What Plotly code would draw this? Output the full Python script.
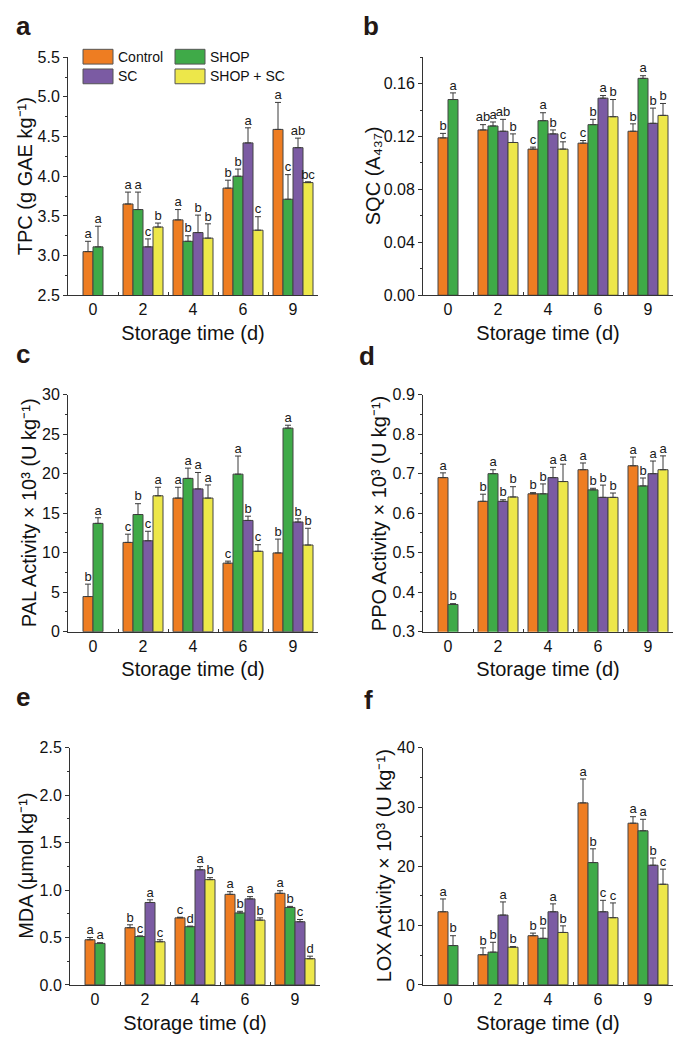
import plotly.graph_objects as go

W, H = 685, 1049
days = ["0", "2", "4", "6", "9"]
treatments = ["Control", "SHOP", "SC", "SHOP + SC"]
colors = ["#EE7D22", "#3FAA48", "#7B5BA3", "#EDE74A"]

# ---- a: TPC ----
tpc_mean = [[3.05, 3.65, 3.45, 3.85, 4.59],
            [3.11, 3.58, 3.18, 4.00, 3.71],
            [None, 3.11, 3.29, 4.42, 4.36],
            [None, 3.36, 3.22, 3.32, 3.92]]
tpc_err = [[0.13, 0.15, 0.13, 0.10, 0.34],
           [0.26, 0.22, 0.07, 0.09, 0.31],
           [None, 0.10, 0.22, 0.19, 0.12],
           [None, 0.05, 0.18, 0.17, 0.01]]
tpc_sig = [["a", "a", "a", "b", "a"],
           ["a", "a", "b", "b", "c"],
           [None, "c", "b", "a", "ab"],
           [None, "b", "b", "c", "bc"]]

# ---- b: SQC ----
sqc_mean = [[0.119, 0.125, 0.1105, 0.115, 0.124],
            [0.148, 0.128, 0.132, 0.129, 0.164],
            [None, 0.124, 0.122, 0.149, 0.130],
            [None, 0.1155, 0.1105, 0.135, 0.136]]
sqc_err = [[0.0034, 0.004, 0.0015, 0.002, 0.0056],
           [0.005, 0.003, 0.006, 0.004, 0.002],
           [None, 0.009, 0.003, 0.002, 0.0115],
           [None, 0.0065, 0.0055, 0.013, 0.009]]
sqc_sig = [["b", "ab", "c", "c", "b"],
           ["a", "a", "a", "b", "a"],
           [None, "ab", "b", "a", "b"],
           [None, "b", "c", "b", "b"]]

# ---- c: PAL ----
pal_mean = [[4.45, 11.30, 16.91, 8.68, 9.97],
            [13.71, 14.83, 19.40, 19.94, 25.76],
            [None, 11.51, 18.07, 14.08, 13.88],
            [None, 17.20, 16.91, 10.18, 10.97]]
pal_err = [[1.57, 1.04, 1.37, 0.25, 1.75],
           [0.71, 1.37, 1.30, 2.29, 0.37],
           [None, 1.20, 2.08, 0.54, 0.41],
           [None, 1.08, 1.66, 0.83, 2.12]]
pal_sig = [["b", "c", "a", "c", "b"],
           ["a", "b", "a", "a", "a"],
           [None, "c", "a", "b", "b"],
           [None, "a", "a", "c", "b"]]

# ---- d: PPO ----
ppo_mean = [[0.690, 0.630, 0.649, 0.710, 0.720],
            [0.369, 0.700, 0.649, 0.659, 0.669],
            [None, 0.630, 0.690, 0.640, 0.700],
            [None, 0.641, 0.680, 0.640, 0.710]]
ppo_err = [[0.012, 0.018, 0.003, 0.017, 0.022],
           [0.002, 0.010, 0.025, 0.004, 0.020],
           [None, 0.004, 0.026, 0.031, 0.032],
           [None, 0.026, 0.044, 0.011, 0.035]]
ppo_sig = [["a", "b", "b", "a", "a"],
           ["b", "a", "b", "b", "b"],
           [None, "b", "a", "b", "a"],
           [None, "b", "a", "b", "a"]]

# ---- e: MDA ----
mda_mean = [[0.476, 0.603, 0.707, 0.955, 0.966],
            [0.438, 0.510, 0.614, 0.759, 0.817],
            [None, 0.869, 1.214, 0.907, 0.666],
            [None, 0.455, 1.110, 0.683, 0.276]]
mda_err = [[0.024, 0.031, 0.007, 0.028, 0.027],
           [0.007, 0.007, 0.006, 0.017, 0.011],
           [None, 0.028, 0.034, 0.024, 0.024],
           [None, 0.021, 0.021, 0.024, 0.027]]
mda_sig = [["a", "b", "c", "a", "a"],
           ["a", "c", "d", "b", "b"],
           [None, "a", "a", "a", "c"],
           [None, "c", "b", "b", "d"]]

# ---- f: LOX ----
lox_mean = [[12.34, 5.09, 8.30, 30.71, 27.28],
            [6.64, 5.53, 7.86, 20.64, 26.00],
            [None, 11.78, 12.34, 12.34, 20.19],
            [None, 6.36, 8.85, 11.34, 16.98]]
lox_err = [[2.16, 1.16, 0.44, 4.03, 1.10],
           [1.66, 1.66, 1.71, 2.32, 1.94],
           [None, 2.22, 1.33, 1.93, 1.22],
           [None, 0.11, 1.11, 2.49, 2.55]]
lox_sig = [["a", "b", "b", "a", "a"],
           ["b", "b", "b", "b", "a"],
           [None, "a", "a", "c", "b"],
           [None, "b", "b", "c", "c"]]

FONT = "Liberation Sans, Arial, sans-serif"
AX = "#333333"


def px(x):
    return x / W


def py(y):
    return 1 - y / H


panels = [
    dict(mean=tpc_mean, err=tpc_err, sig=tpc_sig, title="TPC (g GAE kg⁻¹)", tx=25,
         rng=[2.5, 5.5], dtick=0.5, fmt=".1f", xd=(68, 318), yd=(50, 292), letter="a", lp=(14, 36)),
    dict(mean=sqc_mean, err=sqc_err, sig=sqc_sig, title="SQC (A₄₃₇)", tx=373,
         rng=[0, 0.18], dtick=0.04, fmt=".2f", xd=(423, 673), yd=(50, 292), letter="b", lp=(361, 36)),
    dict(mean=pal_mean, err=pal_err, sig=pal_sig, title="PAL Activity × 10³ (U kg⁻¹)", tx=29,
         rng=[0, 30], dtick=5, fmt="d", xd=(68, 318), yd=(393, 634), letter="c", lp=(14, 369)),
    dict(mean=ppo_mean, err=ppo_err, sig=ppo_sig, title="PPO Activity × 10³ (U kg⁻¹)", tx=379,
         rng=[0.3, 0.9], dtick=0.1, fmt=".1f", xd=(423, 673), yd=(393, 634), letter="d", lp=(357, 371)),
    dict(mean=mda_mean, err=mda_err, sig=mda_sig, title="MDA (μmol kg⁻¹)", tx=26.5,
         rng=[0, 2.5], dtick=0.5, fmt=".1f", xd=(70, 320), yd=(752, 993), letter="e", lp=(14, 718)),
    dict(mean=lox_mean, err=lox_err, sig=lox_sig, title="LOX Activity × 10³ (U kg⁻¹)", tx=384,
         rng=[0, 40], dtick=10, fmt="d", xd=(423, 673), yd=(752, 993), letter="f", lp=(362, 721)),
]

BARW = 0.2
fig = go.Figure()
annotations = []
shapes = []

for pi, p in enumerate(panels):
    n = pi + 1
    xa = "x" if n == 1 else f"x{n}"
    ya = "y" if n == 1 else f"y{n}"
    # bar centres: the bars present for each day are packed around the day's position
    centers = [[None] * len(days) for _ in treatments]
    for di in range(len(days)):
        present = [ti for ti in range(len(treatments)) if p["mean"][ti][di] is not None]
        k = len(present)
        for slot, ti in enumerate(present):
            centers[ti][di] = di + (slot - (k - 1) / 2) * BARW
    for ti, name in enumerate(treatments):
        idx = [di for di in range(len(days)) if p["mean"][ti][di] is not None]
        xs = [centers[ti][di] for di in idx]
        ys = [p["mean"][ti][di] for di in idx]
        es = [p["err"][ti][di] for di in idx]
        ls = [p["sig"][ti][di] for di in idx]
        fig.add_trace(go.Bar(
            x=xs, y=ys, width=BARW, name=name, showlegend=False,
            marker=dict(color=colors[ti], line=dict(color="#444444", width=1)),
            error_y=dict(type="data", symmetric=False, array=es, arrayminus=[0] * len(es),
                         color="#3a3a3a", thickness=1, width=3),
            xaxis=xa, yaxis=ya, hoverinfo="x+y"))
        fig.add_trace(go.Scatter(
            x=xs, y=[a + b for a, b in zip(ys, es)], text=ls, mode="text",
            textposition="top center", textfont=dict(family=FONT, size=13, color="#1a1a1a"),
            showlegend=False, xaxis=xa, yaxis=ya, hoverinfo="skip", cliponaxis=False))

    xkey = "xaxis" if n == 1 else f"xaxis{n}"
    ykey = "yaxis" if n == 1 else f"yaxis{n}"
    fig.layout[xkey] = dict(
        domain=[px(p["xd"][0]), px(p["xd"][1])], anchor=ya, range=[-0.5, len(days) - 0.5],
        tickmode="array", tickvals=list(range(len(days))), ticktext=days, ticks="",
        showline=True, linecolor=AX, linewidth=1, showgrid=False, zeroline=False,
        tickfont=dict(family=FONT, size=16, color="#111"),
        minor=dict(ticks="inside", tickvals=[i + 0.5 for i in range(len(days) - 1)],
                   ticklen=3, tickcolor=AX, showgrid=False),
        title=dict(text="Storage time (d)", font=dict(family=FONT, size=20, color="#111"), standoff=8),
    )
    fig.layout[ykey] = dict(
        domain=[py(p["yd"][1]), py(p["yd"][0])], anchor=xa, range=p["rng"],
        tick0=p["rng"][0], dtick=p["dtick"], tickformat=p["fmt"], ticks="outside", ticklen=4,
        tickcolor=AX, showline=True, linecolor=AX, linewidth=1, showgrid=False, zeroline=False,
        tickfont=dict(family=FONT, size=16, color="#111"),
        minor=dict(ticks="outside", dtick=p["dtick"] / 2, tick0=p["rng"][0], ticklen=2.5,
                   tickcolor=AX, showgrid=False),
    )
    # y-axis title (rotated), placed beside the tick labels
    annotations.append(dict(text=p["title"], x=px(p["tx"]), y=py((p["yd"][0] + p["yd"][1]) / 2),
                            xref="paper", yref="paper", xanchor="center", yanchor="middle",
                            textangle=-90, showarrow=False,
                            font=dict(family=FONT, size=20, color="#111")))
    annotations.append(dict(text=f"<b>{p['letter']}</b>", x=px(p["lp"][0]), y=py(p["lp"][1]),
                            xref="paper", yref="paper", xanchor="left", yanchor="bottom",
                            showarrow=False, font=dict(family=FONT, size=26, color="#231815")))

# legend (panel a), drawn as swatches + labels
leg_pos = [(83, 42), (175, 42), (83, 62), (175, 62)]
for ti, name in enumerate(treatments):
    x0, y0 = leg_pos[ti]
    shapes.append(dict(type="rect", xref="paper", yref="paper", x0=px(x0), x1=px(x0 + 30),
                       y0=py(y0 + 15), y1=py(y0), fillcolor=colors[ti],
                       line=dict(color="#555555", width=1)))
    annotations.append(dict(text=name, x=px(x0 + 33), y=py(y0 + 7.5), xref="paper", yref="paper",
                            xanchor="left", yanchor="middle", showarrow=False,
                            font=dict(family=FONT, size=14, color="#111")))

fig.update_layout(
    width=W, height=H, margin=dict(l=0, r=0, t=0, b=0),
    plot_bgcolor="white", paper_bgcolor="white", barmode="overlay",
    annotations=annotations, shapes=shapes, showlegend=False,
    font=dict(family=FONT, color="#111"),
)

fig.write_html("out.html", config={"displayModeBar": False},
               post_script="document.body.style.margin='0';document.body.style.overflow='hidden';")
